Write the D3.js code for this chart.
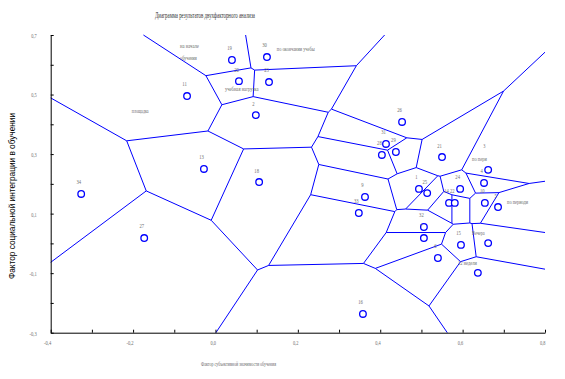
<!DOCTYPE html>
<html><head><meta charset="utf-8">
<script src="https://cdn.jsdelivr.net/npm/d3@7"></script>
<style>body{margin:0;background:#fff}svg{display:block}</style>
</head><body>
<svg id="chart" width="565" height="379"></svg>
<script>
// ---- data ----
const pointLabels = ["19","30","20","23","11","2","13","18","34","27","26","31","28","29","21","","4","1","25","24","10","5","14","22","9","33","32","7","15","","6","","16"];
const factorX = [0.040,0.125,0.057,0.130,-0.069,0.098,-0.028,0.106,-0.326,-0.173,0.453,0.414,0.404,0.438,0.550,0.662,0.652,0.494,0.514,0.594,0.654,0.686,0.567,0.581,0.363,0.348,0.506,0.506,0.596,0.662,0.540,0.637,0.358];
const factorY = [0.616,0.626,0.545,0.542,0.495,0.431,0.250,0.206,0.166,0.018,0.408,0.334,0.297,0.307,0.290,0.247,0.203,0.183,0.169,0.183,0.136,0.122,0.136,0.136,0.156,0.102,0.055,0.018,-0.005,0.001,-0.049,-0.099,-0.237];
const noteTexts = ["на начале","обучения","по окончании учебы","учебная нагрузка","площадка","3","по пери","по периоди","Вечера","12 недели"];
const noteX = [-0.086,-0.086,0.149,0.023,-0.203,0.650,0.623,0.708,0.623,0.589];
const noteY = [0.664,0.623,0.653,0.520,0.445,0.330,0.285,0.142,0.038,-0.063];
const xTicks = [-0.4,-0.3,-0.2,-0.1,0.0,0.1,0.2,0.3,0.4,0.5,0.6,0.7,0.8];
const yTicks = [0.7,0.6,0.5,0.4,0.3,0.2,0.1,0.0,-0.1,-0.2,-0.3];
const xLabeled = [-0.4,-0.2,0.0,0.2,0.4,0.6,0.8];
const yLabeled = [0.7,0.5,0.3,0.1,-0.1,-0.3];
const titleText = "Диаграмма результатов двухфакторного анализа";
const xTitle = "Фактор субъективной значимости обучения";
const yTitle = "Фактор  социальной интеграции в обучении";

// ---- layout ----
const svg = d3.select("#chart");
const X0 = 50.7, X1 = 545, Y0 = 332.7, Y1 = 35;
const xs = d3.scaleLinear().domain([-0.4,0.8]).range([X0,X1]);
const ys = d3.scaleLinear().domain([-0.3,0.7]).range([Y0,Y1]);
const fmt = v => d3.format(".1f")(v).replace(".", ",").replace("−","-");
const has = (arr,v) => arr.some(a => Math.abs(a-v) < 1e-9);
const gray = "#6e6e6e";

// Voronoi (in data space)
const pts = factorX.map((x,i) => [x, factorY[i]]);
const vor = d3.Delaunay.from(pts).voronoi([-0.4,-0.3,0.8,0.7]);
const p = d3.path();
vor.render({
  moveTo:(x,y)=>p.moveTo(xs(x),ys(y)),
  lineTo:(x,y)=>p.lineTo(xs(x),ys(y)),
  closePath:()=>p.closePath()
});
svg.append("path").attr("d", p.toString()).attr("fill","none")
  .attr("stroke","#0000ff").attr("stroke-width",1);

// axes
const xAxis = d3.axisBottom(xs).tickValues(xTicks).tickSizeInner(-3).tickSizeOuter(0)
  .tickFormat(v => has(xLabeled,v) ? fmt(v) : "");
const gx = svg.append("g").attr("transform",`translate(0,${Y0})`).call(xAxis);
gx.selectAll("text").attr("text-anchor","end").attr("y",10).attr("dy","0.35em").attr("x",0)
  .attr("font-family","Liberation Serif").attr("font-size",7).attr("fill",gray)
  .each(function(){ const t=d3.select(this).text(); if(t) d3.select(this).attr("textLength",t.length*1.8).attr("lengthAdjust","spacingAndGlyphs"); });
const yAxis = d3.axisLeft(ys).tickValues(yTicks).tickSizeInner(-3).tickSizeOuter(0)
  .tickFormat(v => has(yLabeled,v) ? fmt(v) : "");
const gy = svg.append("g").attr("transform",`translate(${X0},0)`).call(yAxis);
gy.selectAll("text").attr("text-anchor","end").attr("x",-14).attr("dy","0.35em")
  .attr("font-family","Liberation Serif").attr("font-size",7).attr("fill",gray)
  .each(function(){ const t=d3.select(this).text(); if(t) d3.select(this).attr("textLength",t.length*1.8).attr("lengthAdjust","spacingAndGlyphs"); });
svg.selectAll(".domain, .tick line").attr("stroke","#000").attr("stroke-width",1);

// points
svg.append("g").selectAll("circle").data(pts).join("circle")
  .attr("cx",d=>xs(d[0])).attr("cy",d=>ys(d[1])).attr("r",3.3)
  .attr("fill","#fff").attr("stroke","#0000ff").attr("stroke-width",1.3);
svg.append("g").selectAll("text").data(pts).join("text")
  .attr("x",d=>xs(d[0])-2.5).attr("y",d=>ys(d[1])-12).attr("dy","0.35em")
  .attr("text-anchor","middle").attr("font-family","Liberation Serif").attr("font-size",7)
  .attr("fill",gray)
  .each(function(d,i){ const t=pointLabels[i]; const s=d3.select(this).text(t); if(t) s.attr("textLength",t.length*2.3).attr("lengthAdjust","spacingAndGlyphs"); });

// annotations
svg.append("g").selectAll("text").data(noteTexts).join("text")
  .attr("x",(d,i)=>xs(noteX[i])).attr("y",(d,i)=>ys(noteY[i])).attr("dy","0.35em")
  .attr("font-family","Liberation Serif").attr("font-size",7).attr("fill",gray)
  .attr("textLength",d=>d.length*2.1).attr("lengthAdjust","spacingAndGlyphs").text(d=>d);

// titles
svg.append("text").attr("x",205).attr("y",15).attr("dy","0.35em").attr("text-anchor","middle")
  .attr("font-family","Liberation Serif").attr("font-size",8).attr("fill","#333")
  .attr("textLength",100).attr("lengthAdjust","spacingAndGlyphs").text(titleText);
svg.append("text").attr("x",238.5).attr("y",364).attr("dy","0.35em").attr("text-anchor","middle")
  .attr("font-family","Liberation Serif").attr("font-size",7).attr("fill",gray)
  .attr("textLength",75).attr("lengthAdjust","spacingAndGlyphs").text(xTitle);
svg.append("text").attr("transform","translate(12,196) rotate(-90)").attr("dy","0.35em").attr("text-anchor","middle")
  .attr("font-family","Liberation Sans").attr("font-size",9.5).attr("fill","#000")
  .attr("textLength",166).attr("lengthAdjust","spacingAndGlyphs").text(yTitle);
</script>
</body></html>
